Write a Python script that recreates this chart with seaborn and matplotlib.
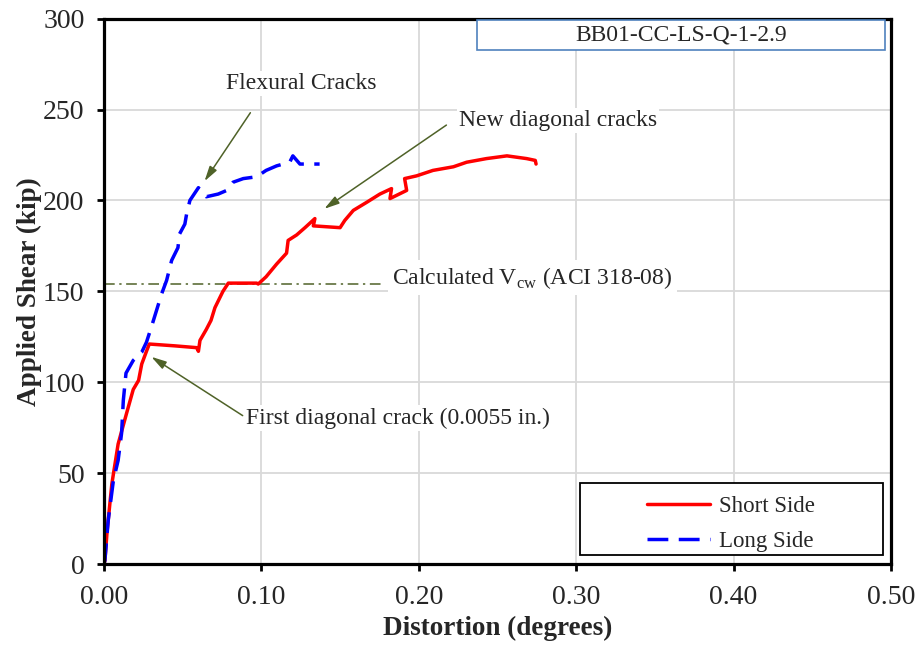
import pandas as pd
import seaborn as sns
import matplotlib
matplotlib.use("Agg")
import matplotlib.pyplot as plt
from matplotlib.patches import Rectangle

# Short side readings (distortion in degrees, shear in kip)
short_x = [0.0, 0.0006, 0.002, 0.005, 0.009, 0.0144, 0.0186, 0.022, 0.024, 0.027, 0.0288,
           0.045, 0.0589, 0.060, 0.061, 0.065, 0.068, 0.0705, 0.0756, 0.079, 0.090, 0.097,
           0.098, 0.103, 0.1097, 0.116, 0.117, 0.1224, 0.1277, 0.134, 0.133, 0.150, 0.153,
           0.1584, 0.167, 0.1753, 0.1827, 0.1817, 0.1923, 0.191, 0.1986, 0.209, 0.222,
           0.2304, 0.243, 0.256, 0.2685, 0.274, 0.2745]
short_y = [0, 2, 18, 44, 66, 83, 96, 101, 110, 117, 121,
           120, 119, 117, 123, 129, 134, 141, 150, 154.5, 154.5, 154.5,
           154, 158, 165, 171, 178, 181, 185, 190, 186, 185, 189,
           194.5, 199, 203.5, 206.5, 201, 205.5, 212, 213.5, 216.5, 218.5,
           221, 223, 224.5, 223, 222, 220]

# Long side readings
long_x = [0.0, 0.0006, 0.0027, 0.006, 0.009, 0.0112, 0.0123, 0.014, 0.0186, 0.024, 0.027,
          0.030, 0.0334, 0.0366, 0.0398, 0.043, 0.047, 0.048, 0.0514, 0.0525, 0.0546,
          0.060, 0.065, 0.0726, 0.078, 0.082, 0.0885, 0.097, 0.103, 0.1097, 0.118, 0.120,
          0.1245, 0.137]
long_y = [0, 2, 24, 46, 57, 72, 90, 105, 112, 116.5, 122,
          130, 139.5, 148.5, 156, 167, 174, 181.5, 187, 192.5, 200,
          207, 202, 203.5, 205.5, 210, 212, 213, 216.5, 219, 221, 224.5,
          220, 220]

vcw = 154          # calculated Vcw (ACI 318-08), kip
vcw_x_end = 0.178  # where the reference line stops

series_names = ["Short Side", "Long Side"]
series_colors = ["#ff0000", "#0000ff"]
x_ticks = [0.0, 0.1, 0.2, 0.3, 0.4, 0.5]
y_ticks = [0, 50, 100, 150, 200, 250, 300]
specimen = "BB01-CC-LS-Q-1-2.9"

df = pd.concat([
    pd.DataFrame({"distortion": short_x, "shear": short_y, "side": series_names[0]}),
    pd.DataFrame({"distortion": long_x, "shear": long_y, "side": series_names[1]}),
])

sns.set_style("whitegrid")
plt.rcParams["font.family"] = ["Liberation Serif", "DejaVu Serif"]
plt.rcParams["mathtext.fontset"] = "custom"
plt.rcParams["mathtext.rm"] = "Liberation Serif"

fig = plt.figure(figsize=(9.2, 6.48), dpi=100)
ax = fig.add_axes([0.113, 0.1296, 0.8555, 0.8417])

sns.lineplot(data=df, x="distortion", y="shear", hue="side", style="side",
             palette=dict(zip(series_names, series_colors)),
             dashes={"Short Side": "", "Long Side": (6, 3)},
             sort=False, estimator=None, linewidth=2.5, ax=ax, legend=False)

ax.axhline(vcw, xmin=0, xmax=vcw_x_end / 0.5, color="#4f6228", lw=1.1,
           linestyle=(0, (7, 3, 1.5, 3)), zorder=1.5)

ax.set_xlim(0, 0.5)
ax.set_ylim(0, 300)
ax.set_xticks(x_ticks)
ax.set_yticks(y_ticks)
ax.xaxis.set_major_formatter(matplotlib.ticker.FormatStrFormatter("%.2f"))
ax.grid(True, color="#d9d9d9", lw=1.3)
for s in ax.spines.values():
    s.set_color("black")
    s.set_linewidth(2.3)
ax.tick_params(axis="both", direction="out", length=5, width=2, color="black",
               labelsize=20, bottom=True, left=True)
ax.tick_params(axis="x", pad=10)
ax.tick_params(axis="y", pad=9)
ax.set_xlabel("Distortion (degrees)", fontsize=19.5, fontweight="bold", labelpad=4)
ax.set_ylabel("Applied Shear (kip)", fontsize=19.5, fontweight="bold", labelpad=1)

arrow_kw = dict(arrowstyle="-|>,head_length=0.9,head_width=0.25", color="#4f6228", lw=1.1)
box_kw = dict(facecolor="white", edgecolor="none", pad=1.5)

ax.annotate("", xy=(0.0629, 209.3), xytext=(0.094, 249.5), arrowprops=arrow_kw)
ax.text(0.0775, 264.3, "Flexural Cracks", fontsize=17, ha="left", va="center", bbox=box_kw)

ax.annotate("", xy=(0.1385, 194.5), xytext=(0.219, 242.3), arrowprops=arrow_kw)
ax.text(0.2255, 244, "New diagonal cracks", fontsize=17, ha="left", va="center", bbox=box_kw)

ax.annotate("", xy=(0.0286, 114.8), xytext=(0.0896, 80.8), arrowprops=arrow_kw)
ax.text(0.0902, 80.2, "First diagonal crack (0.0055 in.)", fontsize=17, ha="left",
        va="center", bbox=box_kw)

ax.text(0.183, 157.5, r"Calculated V$_{\mathrm{cw}}$ (ACI 318-08)", fontsize=17,
        ha="left", va="center", bbox=dict(facecolor="white", edgecolor="none", pad=3))

ax.add_patch(Rectangle((0.474, 0.943), 0.518, 0.055, transform=ax.transAxes,
                       facecolor="white", edgecolor="#4f81bd", lw=1.2, zorder=5))
ax.text(0.733, 0.9705, specimen, transform=ax.transAxes, fontsize=17,
        ha="center", va="center", zorder=6)

# legend frame drawn separately so the entries sit centred in a wide box
ax.add_patch(Rectangle((0.605, 0.016), 0.385, 0.132, transform=ax.transAxes,
                       facecolor="white", edgecolor="black", lw=1.3, zorder=5))
handles = [
    matplotlib.lines.Line2D([], [], color=series_colors[0], lw=2.5),
    matplotlib.lines.Line2D([], [], color=series_colors[1], lw=2.5, dashes=(6, 3)),
]
leg = ax.legend(handles, series_names, loc="center", bbox_to_anchor=(0.797, 0.073),
                fontsize=16.5, handlelength=2.75, frameon=False,
                borderpad=0, labelspacing=0.62, handletextpad=0.4)
leg.set_zorder(6)

fig.savefig("out.png", dpi=100)
